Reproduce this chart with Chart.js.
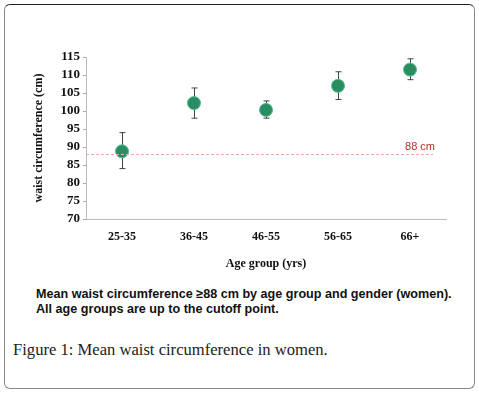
<!DOCTYPE html>
<html>
<head>
<meta charset="utf-8">
<script src="https://cdn.jsdelivr.net/npm/chart.js@4.4.1/dist/chart.umd.min.js"></script>
<style>
  body { margin: 0; background: #fff; width: 479px; height: 393px; overflow: hidden; position: relative; }
  #frame { position: absolute; left: 4px; top: 4px; width: 469px; height: 383px;
           border: 1px solid #888; border-top-color: #222; border-radius: 6px; }
  #wrap { position: absolute; left: 0; top: 0; width: 479px; height: 285px; }
  #note { position: absolute; left: 36px; top: 287px; font: bold 12.6px "Liberation Sans", Arial, sans-serif;
          line-height: 15px; color: #111; }
  #fig { position: absolute; left: 13px; top: 340px; font: 16.6px "Liberation Serif", "Times New Roman", serif; color: #222; }
</style>
</head>
<body>
<div id="frame"></div>
<div id="wrap"><canvas id="chart"></canvas></div>
<div id="note">Mean waist circumference ≥88 cm by age group and gender (women).<br>All age groups are up to the cutoff point.</div>
<div id="fig">Figure 1: Mean waist circumference in women.</div>
<script>
// values
var ageGroups = ['25-35', '36-45', '46-55', '56-65', '66+'];
var meanWaist = [88.8, 102.2, 100.3, 107.0, 111.5];
var errLow = [84.0, 98.0, 98.0, 103.2, 108.7];
var errHigh = [94.0, 106.4, 102.8, 110.9, 114.5];
var cutoff = 88;
var cutoffLabel = '88 cm';

var serifBold = { family: "'Liberation Serif', 'Times New Roman', serif", size: 12, weight: 'bold' };
var serifBoldY = { family: "'Liberation Serif', 'Times New Roman', serif", size: 13, weight: 'bold' };

// error bars drawn through the scales
var errorBars = {
    id: 'errorBars',
    beforeDatasetsDraw: function(chart) {
        var c = chart.ctx, x = chart.scales.x, y = chart.scales.y;
        c.save();
        c.strokeStyle = '#444';
        c.lineWidth = 1;
        for (var i = 0; i < ageGroups.length; i++) {
            var px = Math.round(x.getPixelForValue(i)) + 0.5;
            var lo = y.getPixelForValue(errLow[i]), hi = y.getPixelForValue(errHigh[i]);
            c.beginPath();
            c.moveTo(px, lo); c.lineTo(px, hi);
            c.moveTo(px - 3, lo); c.lineTo(px + 3, lo);
            c.moveTo(px - 3, hi); c.lineTo(px + 3, hi);
            c.stroke();
        }
        c.restore();
    }
};

// 88 cm cutoff line
var cutoffLine = {
    id: 'cutoffLine',
    afterDatasetsDraw: function(chart) {
        var c = chart.ctx, a = chart.chartArea, y = chart.scales.y;
        var py = Math.round(y.getPixelForValue(cutoff)) + 0.5;
        c.save();
        c.strokeStyle = '#f2a8a8';
        c.lineWidth = 1;
        c.setLineDash([3, 2]);
        c.beginPath();
        c.moveTo(a.left, py);
        c.lineTo(a.right - 13, py);
        c.stroke();
        c.setLineDash([]);
        c.fillStyle = '#c0282d';
        c.font = "11px 'Liberation Sans', Arial, sans-serif";
        c.textAlign = 'right';
        c.textBaseline = 'bottom';
        c.fillText(cutoffLabel, a.right - 11, py - 2);
        c.restore();
    }
};

new Chart(document.getElementById('chart'), {
    type: 'line',
    data: {
        labels: ageGroups,
        datasets: [{
            data: meanWaist,
            showLine: false,
            pointRadius: 6.5,
            pointHoverRadius: 6.5,
            pointBackgroundColor: '#2a8d62',
            pointBorderColor: '#4cbf92',
            pointBorderWidth: 1
        }]
    },
    options: {
        responsive: true,
        maintainAspectRatio: false,
        animation: false,
        events: [],
        layout: { padding: { left: 28, right: 33, top: 57, bottom: 10 } },
        plugins: { legend: { display: false }, tooltip: { enabled: false } },
        scales: {
            x: {
                offset: true,
                grid: { display: true, drawOnChartArea: false, drawTicks: false },
                border: { display: true, color: '#bbb' },
                ticks: { color: '#111', font: serifBold, padding: 11 },
                title: { display: true, text: 'Age group (yrs)', color: '#111', font: serifBold, padding: { top: 16 } },
                afterFit: function(s) { s.height = 56; }
            },
            y: {
                min: 70,
                max: 115,
                grid: { display: true, drawOnChartArea: false, drawTicks: true, tickLength: 3, color: '#aaa' },
                border: { display: true, color: '#bbb' },
                ticks: { stepSize: 5, autoSkip: false, color: '#111', font: serifBoldY, padding: 3 },
                title: { display: true, text: 'waist circumference (cm)', color: '#111', font: serifBold, padding: { top: 4, bottom: 4 } },
                afterFit: function(s) { s.width = 58; }
            }
        }
    },
    plugins: [errorBars, cutoffLine]
});
</script>
</body>
</html>
